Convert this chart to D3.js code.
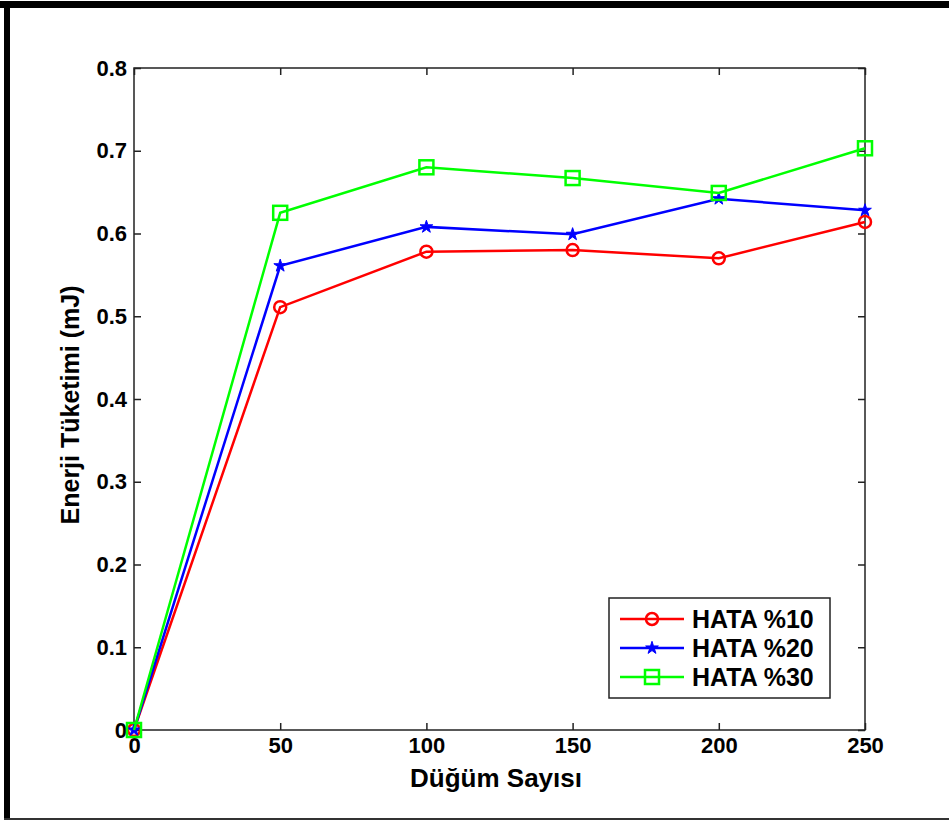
<!DOCTYPE html>
<html><head><meta charset="utf-8">
<script src="https://cdn.jsdelivr.net/npm/d3@7"></script>
<style>body{margin:0;background:#fff}svg{display:block}</style>
</head><body>
<script>
const xValues = [0, 50, 100, 150, 200, 250];
const hata10 = [0, 0.511, 0.578, 0.580, 0.570, 0.614];
const hata20 = [0, 0.561, 0.608, 0.599, 0.642, 0.628];
const hata30 = [0, 0.625, 0.680, 0.667, 0.649, 0.703];
const seriesNames = ["HATA %10", "HATA %20", "HATA %30"];
const xTicks = [0, 50, 100, 150, 200, 250];
const yTicks = [0, 0.1, 0.2, 0.3, 0.4, 0.5, 0.6, 0.7, 0.8];

const W = 949, H = 821;
const svg = d3.select("body").append("svg").attr("width", W).attr("height", H);
svg.append("rect").attr("width", W).attr("height", H).attr("fill", "#fff");
// outer frame
svg.append("rect").attr("x", 0).attr("y", 1).attr("width", W).attr("height", 7).attr("fill", "#000");
svg.append("rect").attr("x", 4).attr("y", 1).attr("width", 6).attr("height", 818).attr("fill", "#000");
svg.append("rect").attr("x", 4).attr("y", 818).attr("width", W).attr("height", 2).attr("fill", "#333");

const L = 134, R = 865, T = 68, B = 730;
const x = d3.scaleLinear().domain([0, 250]).range([L, R]);
const y = d3.scaleLinear().domain([0, 0.8]).range([B, T]);
const font = "'Liberation Sans', Arial, sans-serif";

const g = svg.append("g");
// box
g.append("rect").attr("x", L).attr("y", T).attr("width", R - L).attr("height", B - T)
  .attr("fill", "none").attr("stroke", "#222").attr("stroke-width", 1.5);

const fmtY = d => d === 0 ? "0" : d3.format(".1f")(d);
const axB = g.append("g").attr("transform", `translate(0,${B})`)
  .call(d3.axisBottom(x).tickValues(xTicks).tickSize(-7).tickPadding(7).tickFormat(d3.format("d")));
const axT = g.append("g").attr("transform", `translate(0,${T})`)
  .call(d3.axisTop(x).tickValues(xTicks).tickSize(-7).tickFormat(""));
const axL = g.append("g").attr("transform", `translate(${L},0)`)
  .call(d3.axisLeft(y).tickValues(yTicks).tickSize(-7).tickPadding(7).tickFormat(fmtY));
const axR = g.append("g").attr("transform", `translate(${R},0)`)
  .call(d3.axisRight(y).tickValues(yTicks).tickSize(-7).tickFormat(""));
[axB, axT, axL, axR].forEach(a => {
  a.select(".domain").remove();
  a.selectAll(".tick line").attr("stroke", "#222").attr("stroke-width", 1.5);
  a.selectAll("text").attr("fill", "#000").style("font-family", font)
    .style("font-weight", "bold").style("font-size", "22px");
});
axB.selectAll("text").attr("dy", "0.72em");

// axis titles
svg.append("text").attr("x", 496).attr("y", 787).attr("text-anchor", "middle")
  .style("font-family", font).style("font-weight", "bold").style("font-size", "26px")
  .text("Düğüm Sayısı");
svg.append("text").attr("transform", `translate(79,${(T + B) / 2 + 6}) rotate(-90)`)
  .attr("text-anchor", "middle")
  .style("font-family", font).style("font-weight", "bold").style("font-size", "25px")
  .text("Enerji Tüketimi (mJ)");

const colors = ["#ff0000", "#0000ff", "#00ff00"];
const allSeries = [hata10, hata20, hata30];
const line = d3.line().x((d, i) => x(xValues[i])).y(d => y(d));
const star = d3.symbol().type(d3.symbolStar).size(50);

function marker(sel, k, cx, cy) {
  if (k === 0) {
    sel.append("circle").attr("cx", cx).attr("cy", cy).attr("r", 6)
      .attr("fill", "none").attr("stroke", colors[0]).attr("stroke-width", 2.5);
  } else if (k === 1) {
    sel.append("path").attr("d", star()).attr("transform", `translate(${cx},${cy})`)
      .attr("fill", colors[1]).attr("stroke", colors[1]).attr("stroke-width", 1);
  } else {
    sel.append("rect").attr("x", cx - 7).attr("y", cy - 7).attr("width", 14).attr("height", 14)
      .attr("fill", "none").attr("stroke", colors[2]).attr("stroke-width", 2.5);
  }
}

allSeries.forEach((s, k) => {
  g.append("path").datum(s).attr("d", line).attr("fill", "none")
    .attr("stroke", colors[k]).attr("stroke-width", 2.5);
  const mg = g.append("g");
  s.forEach((v, i) => marker(mg, k, x(xValues[i]), y(v)));
});

// legend
const lg = svg.append("g");
lg.append("rect").attr("x", 609).attr("y", 598).attr("width", 221).attr("height", 100)
  .attr("fill", "#fff").attr("stroke", "#222").attr("stroke-width", 1.5);
seriesNames.forEach((n, k) => {
  const ly = 619 + k * 29;
  lg.append("line").attr("x1", 620).attr("x2", 684).attr("y1", ly).attr("y2", ly)
    .attr("stroke", colors[k]).attr("stroke-width", 2.5);
  marker(lg, k, 652, ly);
  lg.append("text").attr("x", 692).attr("y", ly).attr("dy", "0.36em")
    .style("font-family", font).style("font-weight", "bold").style("font-size", "25px")
    .text(n);
});
</script>
</body></html>
